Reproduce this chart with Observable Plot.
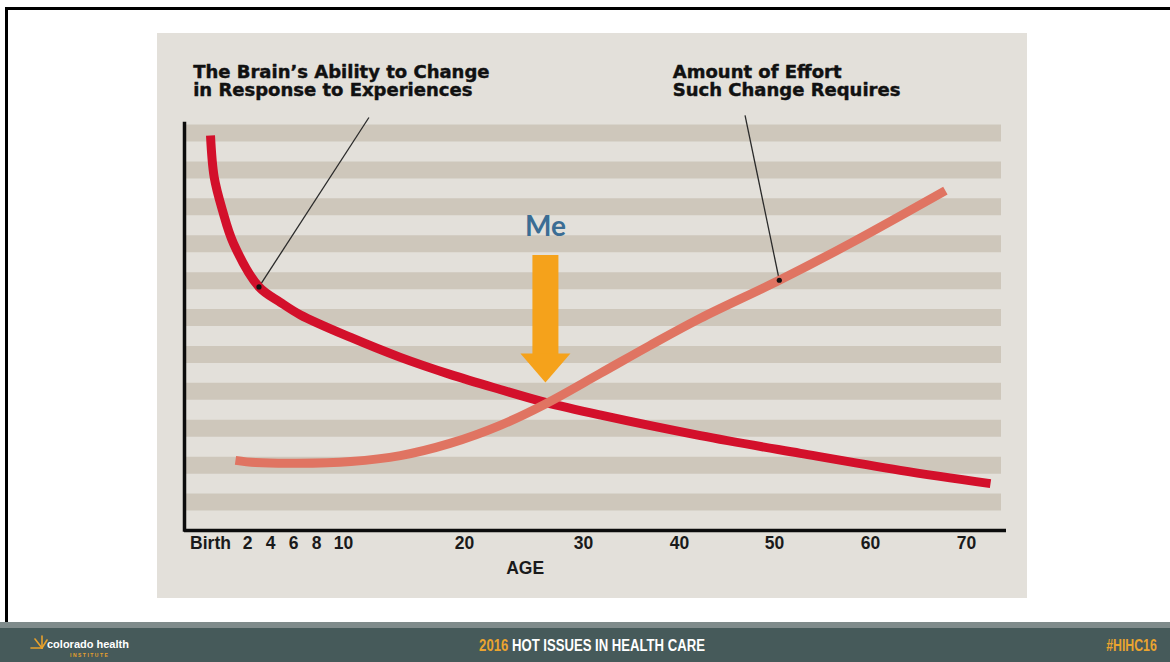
<!DOCTYPE html>
<html>
<head>
<meta charset="utf-8">
<script src="https://cdn.jsdelivr.net/npm/d3@7"></script>
<script src="https://cdn.jsdelivr.net/npm/@observablehq/plot@0.6"></script>
<style>
  html, body { margin: 0; padding: 0; background: #fff; }
  #page { position: relative; width: 1170px; height: 662px; overflow: hidden; background: #fff; }
  #frameTop { position: absolute; left: 5px; top: 7px; width: 1165px; height: 3px; background: #000; }
  #frameLeft { position: absolute; left: 5px; top: 7px; width: 3px; height: 615px; background: #000; }
  #chart { position: absolute; left: 157px; top: 33px; }
  #footer { position: absolute; left: 0; top: 622px; width: 1170px; height: 40px; box-sizing: border-box;
            background: #465a5a; border-top: 6px solid #7f8b8b; font-family: "Liberation Sans", sans-serif; }
  #footer .mid { position: absolute; left: 0; width: 1184px; top: 9px; text-align: center; color: #fff; font-weight: bold; font-size: 16px;
                 transform: scaleX(0.82); transform-origin: 592px 0; }
  #footer .yr { color: #eaa42f; }
  #footer .tag { position: absolute; right: 13px; top: 9px; color: #eaa42f; font-weight: bold; font-size: 16px;
                 transform: scaleX(0.77); transform-origin: right top; }
  #footer .logo { position: absolute; left: 30px; top: 6px; color: #fff; }
  #footer .lname { position: absolute; left: 17px; top: 4px; font-size: 11px; font-weight: bold; white-space: nowrap; }
  #footer .inst { position: absolute; left: 40px; top: 18px; font-size: 5px; font-weight: bold; color: #e8a12c; letter-spacing: 1.5px; }
</style>
</head>
<body>
<div id="page">
  <div id="frameTop"></div>
  <div id="frameLeft"></div>
  <div id="chart"></div>
  <div id="footer">
    <div class="logo">
      <svg width="18" height="18" style="position:absolute;left:0;top:0">
        <g stroke="#e8a12c" stroke-width="1.6" stroke-linecap="round">
          <line x1="12" y1="14" x2="12" y2="2"/>
          <line x1="12" y1="14" x2="5" y2="5"/>
          <line x1="12" y1="14" x2="17" y2="6"/>
          <line x1="12" y1="14" x2="1" y2="14"/>
        </g>
      </svg>
      <span class="lname">colorado health</span>
      <span class="inst">INSTITUTE</span>
    </div>
    <div class="mid"><span class="yr">2016</span> HOT ISSUES IN HEALTH CARE</div>
    <div class="tag">#HIHC16</div>
  </div>
</div>
<script>
// ---- Data ----
// X axis: age tick values and their labels
const tickAges   = [0, 2, 4, 6, 8, 10, 20, 30, 40, 50, 60, 70];
const tickLabels = ["Birth", "2", "4", "6", "8", "10", "20", "30", "40", "50", "60", "70"];

// Curve 1: The Brain's Ability to Change in Response to Experiences
const brainAge   = [0, 0.2, 0.65, 1.24, 3, 4.87, 6.61, 10.6, 14.7, 18.8, 23, 26.8, 31.7, 42.2, 52.7, 63.1, 72.5];
const brainLevel = [10.7, 9.57, 8.67, 7.78, 6.6, 6.18, 5.84, 5.23, 4.69, 4.23, 3.82, 3.47, 3.13, 2.57, 2.09, 1.63, 1.27];

// Curve 2: Amount of Effort Such Change Requires
const effortAge   = [1.35, 2.7, 6.3, 10.6, 14.7, 18.8, 23, 26.8, 31.7, 36.9, 42.2, 50.5, 57.9, 67.8];
const effortLevel = [1.9, 1.84, 1.82, 1.87, 2.03, 2.36, 2.85, 3.43, 4.25, 5.01, 5.75, 6.78, 7.78, 9.21];

// Background band levels (horizontal stripes)
const bandLevels = [0.77, 1.77, 2.77, 3.77, 4.77, 5.77, 6.77, 7.77, 8.77, 9.77, 10.77];

// Annotation labels and their pointer lines
const labelTexts = ["The Brain\u2019s Ability to Change\nin Response to Experiences", "Amount of Effort\nSuch Change Requires"];
const labelAge   = [-1, 39.3];
const labelLevel = [11.78, 11.78];
const pointerFromAge   = [12.1, 46.9];
const pointerFromLevel = [11.19, 11.25];
const pointerToAge     = [3, 50.5];
const pointerToLevel   = [6.6, 6.78];

// "Me" marker
const meAge = 26.8;
const meTextLevel = 7.99;
const meShaftTop = 7.45, meShaftBottom = 4.72, meTipLevel = 4.01;

// Axis extents
const axisOrigin = -1.5;
const axisTopLevel = 11.06;
const ageTitleAt = 25.1;

// ---- Build ----
const brain  = brainAge.map((a, i) => ({age: a, level: brainLevel[i]}));
const effort = effortAge.map((a, i) => ({age: a, level: effortLevel[i]}));
const ticks  = tickAges.map((a, i) => ({age: a, label: tickLabels[i]}));
const labels = labelTexts.map((t, i) => ({text: t, age: labelAge[i], level: labelLevel[i]}));
const pointers = pointerFromAge.map((a, i) => ({x1: a, y1: pointerFromLevel[i], x2: pointerToAge[i], y2: pointerToLevel[i]}));

const arrowHead = {
  draw(ctx) {
    ctx.moveTo(0, 0);
    ctx.lineTo(-25, -29);
    ctx.lineTo(25, -29);
    ctx.closePath();
  }
};

const chart = Plot.plot({
  width: 870,
  height: 565,
  marginLeft: 27,
  marginRight: 21,
  marginTop: 91,
  marginBottom: 68,
  style: {background: "#e3e0da", overflow: "visible"},
  x: {
    type: "linear",
    axis: null,
    domain: [axisOrigin, 0, 2, 4, 6, 8, 10, 20, 30, 40, 50, 60, 70],
    range:  [27, 53, 90, 113, 136, 159, 186, 307, 426, 522, 617, 713, 809]
  },
  y: {axis: null, domain: [0, 11]},
  marks: [
    Plot.ruleY(bandLevels, {stroke: "#cec7bb", strokeWidth: 17, insetLeft: 1, insetRight: 5}),
    Plot.ruleY([0], {stroke: "#0c0c0c", strokeWidth: 3.5}),
    Plot.ruleX([axisOrigin], {y1: -0.05, y2: axisTopLevel, stroke: "#0c0c0c", strokeWidth: 3.5}),
    Plot.link(pointers, {x1: "x1", y1: "y1", x2: "x2", y2: "y2", stroke: "#2a2a2a", strokeWidth: 1.3}),
    Plot.line(brain, {x: "age", y: "level", stroke: "#d3102b", strokeWidth: 9, curve: "catmull-rom", strokeLinecap: "butt"}),
    Plot.line(effort, {x: "age", y: "level", stroke: "#e07462", strokeWidth: 9, curve: "catmull-rom", strokeLinecap: "butt"}),
    Plot.dot(pointers, {x: "x2", y: "y2", r: 2.6, fill: "#111"}),
    Plot.ruleX([meAge], {y1: meShaftBottom, y2: meShaftTop, stroke: "#f5a21b", strokeWidth: 26}),
    Plot.dot([meAge], {x: d => d, y: () => meTipLevel, symbol: arrowHead, r: 5, fill: "#f5a21b"}),
    Plot.text(["Me"], {x: () => meAge, y: () => meTextLevel, text: d => d, lineAnchor: "bottom",
      fontFamily: "Lato, 'Open Sans', sans-serif", fontWeight: "bold", fontSize: 28, fill: "#3b6d94"}),
    Plot.text(labels, {x: "age", y: "level", text: "text", textAnchor: "start", lineAnchor: "bottom", lineHeight: 0.96,
      fontFamily: "'DejaVu Sans', sans-serif", fontWeight: "bold", fontSize: 18, fill: "#111", stroke: "#111", strokeWidth: 0.45}),
    Plot.text(ticks, {x: "age", text: "label", frameAnchor: "bottom", dy: 18,
      fontFamily: "'Liberation Sans', sans-serif", fontWeight: "bold", fontSize: 17.5, fill: "#1a1a1a"}),
    Plot.text(["AGE"], {x: () => ageTitleAt, text: d => d, frameAnchor: "bottom", dy: 43,
      fontFamily: "'Liberation Sans', sans-serif", fontWeight: "bold", fontSize: 17.5, fill: "#1a1a1a"})
  ]
});
document.getElementById("chart").appendChild(chart);
</script>
</body>
</html>
